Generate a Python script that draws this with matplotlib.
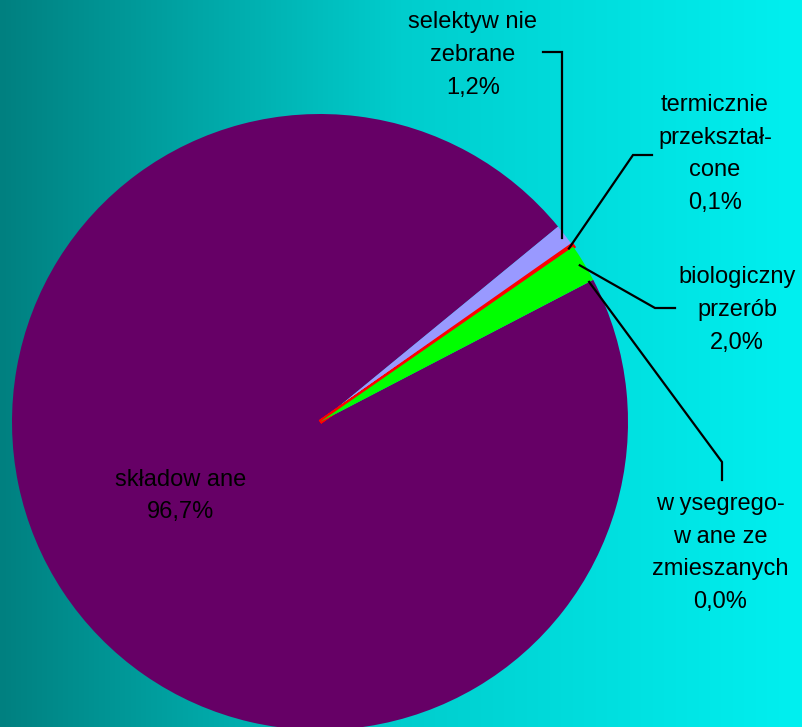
import numpy as np
import matplotlib.pyplot as plt

labels = ['składow ane', 'selektyw nie\nzebrane', 'termicznie\nprzekształ-\ncone',
          'biologiczny\nprzerób', 'w ysegrego-\nw ane ze\nzmieszanych']
values = [96.7, 1.2, 0.1, 2.0, 0.0]
colors = ['#660066', '#9999FF', '#FF0000', '#00FF00', '#000000']

W, H = 802, 727
plt.rcParams['font.family'] = ['Liberation Sans', 'DejaVu Sans']

fig = plt.figure(figsize=(W / 100, H / 100), dpi=100)
ax = fig.add_axes([0, 0, 1, 1])

# background gradient, dark teal -> cyan
xs = np.linspace(0, 1, W)
g = np.interp(xs, [0, 0.5, 1], [128, 205, 240]) / 255
grad = np.zeros((1, W, 3))
grad[0, :, 1] = g
grad[0, :, 2] = g
ax.imshow(grad, extent=(0, W, 0, H), aspect='auto', zorder=0)

cx, cy, r = 320, H - 422, 308
wedges, _ = ax.pie(values, colors=colors, startangle=27.5, counterclock=False,
                   center=(cx, cy), radius=r, wedgeprops=dict(linewidth=0))
wedges[2].set_edgecolor('#FF0000')
wedges[2].set_linewidth(3)
for w in wedges:
    w.set_zorder(2)

ax.set_xlim(0, W)
ax.set_ylim(0, H)
ax.axis('off')

pct = [f'{v:.1f}%'.replace('.', ',') for v in values]

# label positions (pixels from top-left) and leader elbows
text_pos = [(181, 496), (473, 55), (715, 154), (737, 310), (720, 553)]
elbows = [None,
          [('v', 52), (543, 52)],
          [(633, 155), (652, 155)],
          [(655, 308), (675, 308)],
          [(722, 462), (722, 480)]]

for i, w in enumerate(wedges):
    tx, ty = text_pos[i]
    ax.text(tx, H - ty, labels[i] + '\n' + pct[i], ha='center', va='center',
            fontsize=17, linespacing=1.63, color='black', zorder=4)
    if elbows[i] is None:
        continue
    mid = np.deg2rad((w.theta1 + w.theta2) / 2)
    ax0 = cx + 0.985 * r * np.cos(mid)
    ay0 = cy + 0.985 * r * np.sin(mid)
    px, py = [ax0], [ay0]
    for p in elbows[i]:
        if p[0] == 'v':
            px.append(ax0)
            py.append(H - p[1])
        else:
            px.append(p[0])
            py.append(H - p[1])
    ax.plot(px, py, color='black', lw=1.6, zorder=3, solid_joinstyle='miter')

fig.savefig('out.png', dpi=100)
